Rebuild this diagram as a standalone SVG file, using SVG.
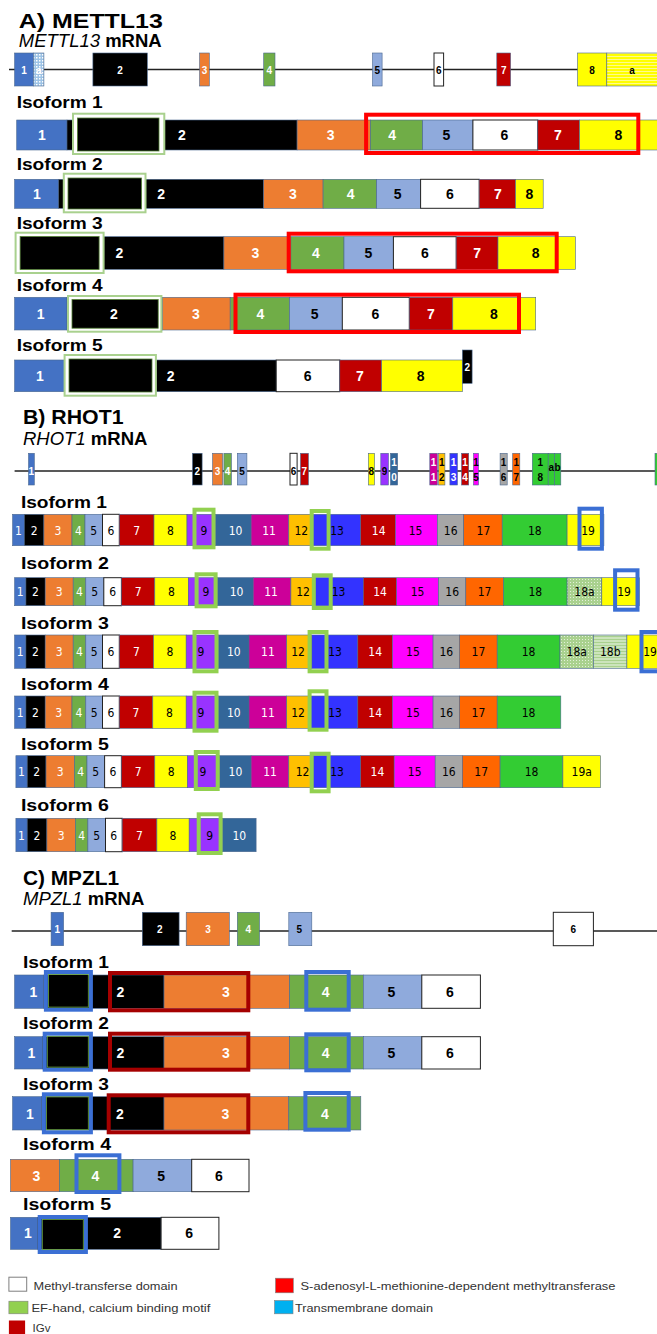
<svg xmlns="http://www.w3.org/2000/svg" width="657" height="1334" viewBox="0 0 657 1334">
<style>
text{font-family:"Liberation Sans",Arial,sans-serif}
.h{font-weight:bold;font-size:20px}
.sub{font-size:18.5px}
.iso{font-weight:bold;font-size:16px}
.L{font-weight:bold;font-size:14px;text-anchor:middle}
.S{font-weight:bold;font-size:10px;text-anchor:middle}
.N{font-family:"Liberation Sans Narrow","DejaVu Sans Condensed","Liberation Sans",sans-serif;font-size:12px;text-anchor:middle}
.lg{font-size:11.5px;fill:#333}
.w{fill:#fff}.b{fill:#000}
.bar rect{stroke:#4a6890;stroke-width:0.6}
.bl{fill:#4472c4}.k{fill:#000}.or{fill:#ed7d31}.gr{fill:#70ad47}.lb{fill:#8faadc}
.bar rect.wh,rect.wh{fill:#fff;stroke:#222;stroke-width:1}
.dr{fill:#c00000}.ye{fill:#ffff00}.pu{fill:#9933ff}.sb{fill:#336699}.mg{fill:#cc0099}
.go{fill:#ffc000}.bu{fill:#3333ff}.mf{fill:#ff00ff}.gy{fill:#a6a6a6}.o2{fill:#ff6600}.g2{fill:#33cc33}
.bar .gbox{fill:#fff;stroke:#a9d18e;stroke-width:2}
.bar .gin{fill:#000;stroke:#548235;stroke-width:0.8}
.bar .rbox{fill:none;stroke:#ff0000;stroke-width:4}
.bar .vbox{fill:none;stroke:#92d050;stroke-width:4}
.bar .ubox{fill:none;stroke:#3b6fd4;stroke-width:4}
.bar .mbox{fill:none;stroke:#a50000;stroke-width:4}
.bar .ink{fill:#000;stroke:#70ad47;stroke-width:0.8}
.line{stroke:#222;stroke-width:1.3}
</style>
<defs>
<pattern id="dots" width="3" height="3" patternUnits="userSpaceOnUse"><rect width="3" height="3" fill="#9dc3e6"/><rect width="1.5" height="1.5" fill="#fff"/></pattern>
<pattern id="ystr" width="4" height="3" patternUnits="userSpaceOnUse"><rect width="4" height="3" fill="#ffff00"/><rect y="2" width="4" height="0.8" fill="#fffbb0"/></pattern>
<pattern id="gdot" width="3" height="3" patternUnits="userSpaceOnUse"><rect width="3" height="3" fill="#a9d18e"/><rect width="1" height="1" fill="#e2f0d9"/></pattern>
<pattern id="gstr" width="4" height="3" patternUnits="userSpaceOnUse"><rect width="4" height="3" fill="#a9d18e"/><rect y="1.5" width="4" height="1" fill="#f0f8ea"/></pattern>
</defs>
<rect width="657" height="1334" fill="#fff"/>

<g id="connectors">
<line class="line" x1="9" y1="69.5" x2="657" y2="69.5"/>
<line class="line" x1="14.6" y1="471" x2="657" y2="471"/>
<line class="line" x1="11.7" y1="931" x2="657" y2="931"/>
</g>

<!-- ===== A) METTL13 ===== -->
<g id="titleA">
<text class="h" x="18.8" y="28" textLength="144" lengthAdjust="spacingAndGlyphs">A) METTL13</text>
<text class="sub" x="18.8" y="47"><tspan font-style="italic">METTL13</tspan> <tspan font-weight="bold">mRNA</tspan></text>
</g>
<g id="mettl13-mrna" class="bar">
<rect class="bl" x="14.6" y="53" width="18.9" height="33"/>
<rect fill="url(#dots)" x="33.5" y="53" width="10.4" height="33"/>
<rect class="k" x="92.9" y="53" width="54.4" height="33"/>
<rect class="or" x="199.6" y="53" width="9.7" height="33"/>
<rect class="gr" x="263.7" y="53" width="11.3" height="33"/>
<rect class="lb" x="372.5" y="53" width="9.6" height="33"/>
<rect class="wh" x="434" y="53" width="9.6" height="33"/>
<rect class="dr" x="496.8" y="53" width="13.8" height="33"/>
<rect class="ye" x="577.5" y="53" width="29.3" height="33"/>
<rect fill="url(#ystr)" x="606.8" y="53" width="52" height="33"/>
<text class="S w" x="24" y="73.5">1</text>
<text class="S w" x="38.7" y="73.5">a</text>
<text class="S w" x="120" y="73.5">2</text>
<text class="S w" x="204.5" y="73.5">3</text>
<text class="S w" x="269.3" y="73.5">4</text>
<text class="S b" x="377.3" y="73.5">5</text>
<text class="S b" x="438.8" y="73.5">6</text>
<text class="S w" x="503.7" y="73.5">7</text>
<text class="S b" x="592" y="73.5">8</text>
<text class="S b" x="632" y="73.5">a</text>
</g>

<g id="mettl13-iso1" class="bar">
<text class="iso" x="16.7" y="108" textLength="86" lengthAdjust="spacingAndGlyphs">Isoform 1</text>
<rect class="bl" x="16.7" y="120" width="50.3" height="30"/>
<rect class="k" x="67" y="120" width="230.1" height="30"/>
<rect class="or" x="297.1" y="120" width="73.3" height="30"/>
<rect class="gr" x="370.4" y="120" width="52.3" height="30"/>
<rect class="lb" x="422.7" y="120" width="50.2" height="30"/>
<rect class="wh" x="472.9" y="120" width="64.9" height="30"/>
<rect class="dr" x="537.8" y="120" width="41.8" height="30"/>
<rect class="ye" x="579.6" y="120" width="80" height="30"/>
<rect class="gbox" x="73" y="113.7" width="91.3" height="40.3"/>
<rect class="gin" x="77.4" y="118" width="81.6" height="33"/>
<rect class="rbox" x="366.1" y="114.7" width="272.2" height="38.3"/>
<text class="L w" x="41.9" y="140">1</text>
<text class="L w" x="182" y="140">2</text>
<text class="L w" x="330.6" y="140">3</text>
<text class="L w" x="392.1" y="140">4</text>
<text class="L b" x="446.5" y="140">5</text>
<text class="L b" x="504.3" y="140">6</text>
<text class="L w" x="557.9" y="140">7</text>
<text class="L b" x="618.5" y="140">8</text>
</g>

<g id="mettl13-iso2" class="bar">
<text class="iso" x="16.7" y="170" textLength="86" lengthAdjust="spacingAndGlyphs">Isoform 2</text>
<rect class="bl" x="14.6" y="179.3" width="44" height="29"/>
<rect class="k" x="58.6" y="179.3" width="205.1" height="29"/>
<rect class="or" x="263.7" y="179.3" width="59.4" height="29"/>
<rect class="gr" x="323.1" y="179.3" width="53.6" height="29"/>
<rect class="lb" x="376.7" y="179.3" width="43.9" height="29"/>
<rect class="wh" x="420.6" y="179.3" width="58.6" height="29"/>
<rect class="dr" x="479.2" y="179.3" width="36.4" height="29"/>
<rect class="ye" x="515.6" y="179.3" width="27.6" height="29"/>
<rect class="gbox" x="63.8" y="173.7" width="81.7" height="38.6"/>
<rect class="gin" x="68" y="178" width="73.5" height="31"/>
<text class="L w" x="36.8" y="199">1</text>
<text class="L w" x="161.1" y="199">2</text>
<text class="L w" x="293" y="199">3</text>
<text class="L w" x="350.7" y="199">4</text>
<text class="L b" x="397.6" y="199">5</text>
<text class="L b" x="449.9" y="199">6</text>
<text class="L w" x="498" y="199">7</text>
<text class="L b" x="529.4" y="199">8</text>
</g>

<g id="mettl13-iso3" class="bar">
<text class="iso" x="16.7" y="229" textLength="86" lengthAdjust="spacingAndGlyphs">Isoform 3</text>
<rect class="k" x="20.1" y="236.7" width="203.8" height="32.6"/>
<rect class="or" x="223.9" y="236.7" width="67" height="32.6"/>
<rect class="gr" x="290.9" y="236.7" width="53.1" height="32.6"/>
<rect class="lb" x="344" y="236.7" width="49.4" height="32.6"/>
<rect class="wh" x="393.4" y="236.7" width="62.8" height="32.6"/>
<rect class="dr" x="456.2" y="236.7" width="41.8" height="32.6"/>
<rect class="ye" x="498" y="236.7" width="77.4" height="32.6"/>
<rect class="gbox" x="15.6" y="232.7" width="88" height="40.3"/>
<rect class="gin" x="20.1" y="236.5" width="79" height="33"/>
<rect class="rbox" x="288.7" y="233.7" width="268" height="37.6"/>
<text class="L w" x="119.3" y="258">2</text>
<text class="L w" x="255.3" y="258">3</text>
<text class="L w" x="316" y="258">4</text>
<text class="L b" x="368.3" y="258">5</text>
<text class="L b" x="424.8" y="258">6</text>
<text class="L w" x="477.1" y="258">7</text>
<text class="L b" x="535.7" y="258">8</text>
</g>

<g id="mettl13-iso4" class="bar">
<text class="iso" x="16.7" y="291" textLength="86" lengthAdjust="spacingAndGlyphs">Isoform 4</text>
<rect class="bl" x="14.6" y="297.3" width="52.4" height="32.7"/>
<rect class="k" x="67" y="297.3" width="95.4" height="32.7"/>
<rect class="or" x="162.4" y="297.3" width="67.8" height="32.7"/>
<rect class="gr" x="230.2" y="297.3" width="59.4" height="32.7"/>
<rect class="lb" x="289.6" y="297.3" width="52.7" height="32.7"/>
<rect class="wh" x="342.3" y="297.3" width="67" height="32.7"/>
<rect class="dr" x="409.3" y="297.3" width="43.5" height="32.7"/>
<rect class="ye" x="452.8" y="297.3" width="82.9" height="32.7"/>
<rect class="gbox" x="68" y="296" width="93.4" height="35.7"/>
<rect class="gin" x="72" y="299.5" width="86.2" height="28.7"/>
<rect class="rbox" x="235.5" y="294.7" width="283.5" height="37.3"/>
<text class="L w" x="40.6" y="319">1</text>
<text class="L w" x="113.8" y="319">2</text>
<text class="L w" x="195.9" y="319">3</text>
<text class="L w" x="260.3" y="319">4</text>
<text class="L b" x="314.7" y="319">5</text>
<text class="L b" x="375.4" y="319">6</text>
<text class="L w" x="431" y="319">7</text>
<text class="L b" x="493.8" y="319">8</text>
</g>

<g id="mettl13-iso5" class="bar">
<text class="iso" x="16.7" y="351" textLength="86" lengthAdjust="spacingAndGlyphs">Isoform 5</text>
<rect class="bl" x="14.6" y="360" width="50.3" height="31.7"/>
<rect class="k" x="64.9" y="360" width="211.3" height="31.7"/>
<rect class="wh" x="276.2" y="360" width="63.6" height="31.7"/>
<rect class="dr" x="339.8" y="360" width="41.9" height="31.7"/>
<rect class="ye" x="381.7" y="360" width="80.7" height="31.7"/>
<rect class="k" x="462.4" y="350" width="9.7" height="33.3"/>
<rect class="gbox" x="64.6" y="355" width="91.3" height="40.7"/>
<rect class="gin" x="69" y="359" width="83" height="33"/>
<text class="L w" x="39.8" y="381">1</text>
<text class="L w" x="170.7" y="381">2</text>
<text class="L b" x="307.6" y="381">6</text>
<text class="L w" x="359.9" y="381">7</text>
<text class="L b" x="420.6" y="381">8</text>
<text class="S w" x="467.2" y="370.5">2</text>
</g>

<!-- ===== B) RHOT1 ===== -->
<g id="titleB">
<text class="h" x="23" y="423.5" textLength="100.5" lengthAdjust="spacingAndGlyphs">B) RHOT1</text>
<text class="sub" x="23" y="444.5"><tspan font-style="italic">RHOT1</tspan> <tspan font-weight="bold">mRNA</tspan></text>
</g>
<g id="rhot1-mrna" class="bar">
<rect class="bl" x="28.5" y="453.3" width="5.8" height="31.7"/>
<rect class="k" x="192.5" y="453.3" width="9.6" height="31.7"/>
<rect class="or" x="212.6" y="453.3" width="10" height="31.7"/>
<rect class="gr" x="223.9" y="453.3" width="7.5" height="31.7"/>
<rect class="lb" x="237.3" y="453.3" width="9.6" height="31.7"/>
<rect class="wh" x="290" y="453.3" width="7.1" height="31.7"/>
<rect class="dr" x="300.5" y="453.3" width="7.9" height="31.7"/>
<rect class="ye" x="368.3" y="453.3" width="6.3" height="31.7"/>
<rect class="pu" x="380.8" y="453.3" width="7.6" height="31.7"/>
<rect class="sb" x="390.5" y="453.3" width="7.1" height="31.7"/>
<rect class="mg" x="429.8" y="453.3" width="7.5" height="31.7"/>
<rect class="go" x="438.6" y="453.3" width="6.3" height="31.7"/>
<rect class="bu" x="449.9" y="453.3" width="7.5" height="31.7"/>
<rect class="dr" x="461.6" y="453.3" width="7.1" height="31.7"/>
<rect class="mf" x="473.5" y="453.3" width="5" height="31.7"/>
<rect class="gy" x="500.1" y="453.3" width="7.1" height="31.7"/>
<rect class="o2" x="512.7" y="453.3" width="7.1" height="31.7"/>
<rect class="g2" x="532.3" y="453.3" width="15.9" height="31.7"/>
<rect class="g2" x="548.2" y="453.3" width="6.3" height="31.7"/>
<rect class="g2" x="554.5" y="453.3" width="6.3" height="31.7"/>
<rect class="g2" x="655" y="453.3" width="4" height="31.7"/>
<text class="S w" x="31.4" y="474.5">1</text>
<text class="S w" x="197.3" y="474.5">2</text>
<text class="S w" x="217.6" y="474.5">3</text>
<text class="S w" x="227.6" y="474.5">4</text>
<text class="S b" x="242.1" y="474.5">5</text>
<text class="S b" x="293.5" y="474.5">6</text>
<text class="S w" x="304.4" y="474.5">7</text>
<text class="S b" x="371.4" y="474.5">8</text>
<text class="S b" x="384.6" y="474.5">9</text>
<text class="S w" x="394" y="466">1</text><text class="S w" x="394" y="481">0</text>
<text class="S w" x="433.5" y="466">1</text><text class="S w" x="433.5" y="481">1</text>
<text class="S b" x="441.7" y="466">1</text><text class="S b" x="441.7" y="481">2</text>
<text class="S w" x="453.6" y="466">1</text><text class="S w" x="453.6" y="481">3</text>
<text class="S w" x="465.1" y="466">1</text><text class="S w" x="465.1" y="481">4</text>
<text class="S b" x="476" y="466">1</text><text class="S b" x="476" y="481">5</text>
<text class="S b" x="503.6" y="466">1</text><text class="S b" x="503.6" y="481">6</text>
<text class="S b" x="516.2" y="466">1</text><text class="S b" x="516.2" y="481">7</text>
<text class="S b" x="540.2" y="466">1</text><text class="S b" x="540.2" y="481">8</text>
<text class="S b" x="551.3" y="471">a</text>
<text class="S b" x="557.6" y="471">b</text>
</g>

<g id="rhot1-iso1" class="bar">
<text class="iso" x="20.9" y="507.5" textLength="86" lengthAdjust="spacingAndGlyphs">Isoform 1</text>
<rect class="bl" x="12.6" y="514.3" width="11.7" height="31.4"/>
<rect class="k" x="24.3" y="514.3" width="19.6" height="31.4"/>
<rect class="or" x="43.9" y="514.3" width="28.1" height="31.4"/>
<rect class="gr" x="72" y="514.3" width="13" height="31.4"/>
<rect class="lb" x="85" y="514.3" width="17.5" height="31.4"/>
<rect class="wh" x="102.5" y="514.3" width="16.8" height="31.4"/>
<rect class="dr" x="119.3" y="514.3" width="34.7" height="31.4"/>
<rect class="ye" x="154" y="514.3" width="33" height="31.4"/>
<rect class="pu" x="187" y="514.3" width="28.5" height="31.4"/>
<rect class="sb" x="215.5" y="514.3" width="35.6" height="31.4"/>
<rect class="mg" x="251.1" y="514.3" width="37.7" height="31.4"/>
<rect class="go" x="288.8" y="514.3" width="23" height="31.4"/>
<rect class="bu" x="311.8" y="514.3" width="48.9" height="31.4"/>
<rect class="dr" x="360.7" y="514.3" width="34.8" height="31.4"/>
<rect class="mf" x="395.5" y="514.3" width="41.8" height="31.4"/>
<rect class="gy" x="437.3" y="514.3" width="26.4" height="31.4"/>
<rect class="o2" x="463.7" y="514.3" width="38.5" height="31.4"/>
<rect class="g2" x="502.2" y="514.3" width="64.9" height="31.4"/>
<rect class="ye" x="567.1" y="514.3" width="36.8" height="31.4"/>
<rect class="vbox" x="194.5" y="509.7" width="19" height="37.6"/>
<rect class="vbox" x="311.7" y="511" width="16.9" height="37.7"/>
<rect class="ubox" x="579.5" y="508.7" width="22.4" height="40"/>
<text class="N w" x="18.4" y="534.5">1</text>
<text class="N w" x="34.1" y="534.5">2</text>
<text class="N w" x="58" y="534.5">3</text>
<text class="N w" x="78.5" y="534.5">4</text>
<text class="N b" x="93.7" y="534.5">5</text>
<text class="N b" x="110.9" y="534.5">6</text>
<text class="N w" x="136.6" y="534.5">7</text>
<text class="N b" x="170.5" y="534.5">8</text>
<text class="N b" x="204" y="534.5">9</text>
<text class="N w" x="235.6" y="534.5">10</text>
<text class="N w" x="269.1" y="534.5">11</text>
<text class="N b" x="301.3" y="534.5">12</text>
<text class="N b" x="337" y="534.5">13</text>
<text class="N w" x="378.7" y="534.5">14</text>
<text class="N b" x="415.6" y="534.5">15</text>
<text class="N b" x="450.7" y="534.5">16</text>
<text class="N b" x="483.4" y="534.5">17</text>
<text class="N b" x="534.8" y="534.5">18</text>
<text class="N b" x="588" y="534.5">19</text>
</g>

<g id="rhot1-iso2" class="bar">
<text class="iso" x="20.9" y="568.5" textLength="88" lengthAdjust="spacingAndGlyphs">Isoform 2</text>
<rect class="bl" x="14.6" y="577.7" width="11.3" height="28"/>
<rect class="k" x="25.9" y="577.7" width="19.3" height="28"/>
<rect class="or" x="45.2" y="577.7" width="28" height="28"/>
<rect class="gr" x="73.2" y="577.7" width="12.6" height="28"/>
<rect class="lb" x="85.8" y="577.7" width="18" height="28"/>
<rect class="wh" x="103.8" y="577.7" width="17.6" height="28"/>
<rect class="dr" x="121.4" y="577.7" width="33.4" height="28"/>
<rect class="ye" x="154.8" y="577.7" width="33.5" height="28"/>
<rect class="pu" x="188.3" y="577.7" width="29.3" height="28"/>
<rect class="sb" x="217.6" y="577.7" width="35.6" height="28"/>
<rect class="mg" x="253.2" y="577.7" width="37.7" height="28"/>
<rect class="go" x="290.9" y="577.7" width="22.1" height="28"/>
<rect class="bu" x="313" y="577.7" width="50.3" height="28"/>
<rect class="dr" x="363.3" y="577.7" width="33.4" height="28"/>
<rect class="mf" x="396.7" y="577.7" width="41.9" height="28"/>
<rect class="gy" x="438.6" y="577.7" width="27.2" height="28"/>
<rect class="o2" x="465.8" y="577.7" width="37.7" height="28"/>
<rect class="g2" x="503.5" y="577.7" width="63.6" height="28"/>
<rect fill="url(#gdot)" x="567.1" y="577.7" width="34.7" height="28"/>
<rect class="ye" x="601.8" y="577.7" width="37.7" height="28"/>
<rect class="vbox" x="196.6" y="574.3" width="19" height="32"/>
<rect class="vbox" x="313.8" y="575.3" width="16.9" height="32.7"/>
<rect class="ubox" x="615.1" y="570.3" width="22.4" height="39.4"/>
<text class="N w" x="20.2" y="596">1</text>
<text class="N w" x="35.5" y="596">2</text>
<text class="N w" x="59.2" y="596">3</text>
<text class="N w" x="79.5" y="596">4</text>
<text class="N b" x="94.8" y="596">5</text>
<text class="N b" x="112.6" y="596">6</text>
<text class="N w" x="138.1" y="596">7</text>
<text class="N b" x="171.5" y="596">8</text>
<text class="N b" x="206" y="596">9</text>
<text class="N w" x="236.5" y="596">10</text>
<text class="N w" x="271" y="596">11</text>
<text class="N b" x="303" y="596">12</text>
<text class="N b" x="338.5" y="596">13</text>
<text class="N w" x="380" y="596">14</text>
<text class="N b" x="417.6" y="596">15</text>
<text class="N b" x="452.2" y="596">16</text>
<text class="N b" x="484.6" y="596">17</text>
<text class="N b" x="535.3" y="596">18</text>
<text class="N b" x="584.5" y="596" font-size="10">18a</text>
<text class="N b" x="624" y="596">19</text>
</g>

<g id="rhot1-iso3" class="bar">
<text class="iso" x="20.9" y="628.5" textLength="88" lengthAdjust="spacingAndGlyphs">Isoform 3</text>
<rect class="bl" x="14.6" y="635" width="11.3" height="33.3"/>
<rect class="k" x="25.9" y="635" width="19.3" height="33.3"/>
<rect class="or" x="45.2" y="635" width="28" height="33.3"/>
<rect class="gr" x="73.2" y="635" width="12.6" height="33.3"/>
<rect class="lb" x="85.8" y="635" width="16.7" height="33.3"/>
<rect class="wh" x="102.5" y="635" width="16.8" height="33.3"/>
<rect class="dr" x="119.3" y="635" width="34.3" height="33.3"/>
<rect class="ye" x="153.6" y="635" width="32.6" height="33.3"/>
<rect class="pu" x="186.2" y="635" width="32.3" height="33.3"/>
<rect class="sb" x="218.5" y="635" width="30.5" height="33.3"/>
<rect class="mg" x="249" y="635" width="37.7" height="33.3"/>
<rect class="go" x="286.7" y="635" width="25.1" height="33.3"/>
<rect class="bu" x="311.8" y="635" width="46" height="33.3"/>
<rect class="dr" x="357.8" y="635" width="34.8" height="33.3"/>
<rect class="mf" x="392.6" y="635" width="40.5" height="33.3"/>
<rect class="gy" x="433.1" y="635" width="26.4" height="33.3"/>
<rect class="o2" x="459.5" y="635" width="37.7" height="33.3"/>
<rect class="g2" x="497.2" y="635" width="62.8" height="33.3"/>
<rect fill="url(#gdot)" x="560" y="635" width="33.4" height="33.3"/>
<rect fill="url(#gstr)" x="593.4" y="635" width="33.5" height="33.3"/>
<rect class="ye" x="626.9" y="635" width="35" height="33.3"/>
<rect class="vbox" x="194.5" y="632" width="22" height="39.3"/>
<rect class="vbox" x="309.6" y="632" width="16.9" height="39.3"/>
<rect class="ubox" x="641.5" y="632" width="22" height="39.3"/>
<text class="N w" x="20.2" y="656">1</text>
<text class="N w" x="35.5" y="656">2</text>
<text class="N w" x="59.2" y="656">3</text>
<text class="N w" x="79.5" y="656">4</text>
<text class="N b" x="94.2" y="656">5</text>
<text class="N b" x="110.9" y="656">6</text>
<text class="N w" x="136.5" y="656">7</text>
<text class="N b" x="169.9" y="656">8</text>
<text class="N b" x="201" y="656">9</text>
<text class="N w" x="233.8" y="656">10</text>
<text class="N w" x="267.9" y="656">11</text>
<text class="N b" x="298" y="656">12</text>
<text class="N b" x="335" y="656">13</text>
<text class="N w" x="375.2" y="656">14</text>
<text class="N b" x="412.9" y="656">15</text>
<text class="N b" x="446.3" y="656">16</text>
<text class="N b" x="478.4" y="656">17</text>
<text class="N b" x="528.6" y="656">18</text>
<text class="N b" x="576.7" y="656" font-size="10">18a</text>
<text class="N b" x="610.2" y="656" font-size="10">18b</text>
<text class="N b" x="650" y="656">19</text>
</g>

<g id="rhot1-iso4" class="bar">
<text class="iso" x="20.9" y="690" textLength="88" lengthAdjust="spacingAndGlyphs">Isoform 4</text>
<rect class="bl" x="14.6" y="696" width="11.3" height="32.3"/>
<rect class="k" x="25.9" y="696" width="19.3" height="32.3"/>
<rect class="or" x="45.2" y="696" width="26.8" height="32.3"/>
<rect class="gr" x="72" y="696" width="13.8" height="32.3"/>
<rect class="lb" x="85.8" y="696" width="16.7" height="32.3"/>
<rect class="wh" x="102.5" y="696" width="16.8" height="32.3"/>
<rect class="dr" x="119.3" y="696" width="33.5" height="32.3"/>
<rect class="ye" x="152.8" y="696" width="33.4" height="32.3"/>
<rect class="pu" x="186.2" y="696" width="32.3" height="32.3"/>
<rect class="sb" x="218.5" y="696" width="30.5" height="32.3"/>
<rect class="mg" x="249" y="696" width="37.7" height="32.3"/>
<rect class="go" x="286.7" y="696" width="23.8" height="32.3"/>
<rect class="bu" x="310.5" y="696" width="47.3" height="32.3"/>
<rect class="dr" x="357.8" y="696" width="34.8" height="32.3"/>
<rect class="mf" x="392.6" y="696" width="40.5" height="32.3"/>
<rect class="gy" x="433.1" y="696" width="26.4" height="32.3"/>
<rect class="o2" x="459.5" y="696" width="37.7" height="32.3"/>
<rect class="g2" x="497.2" y="696" width="63.6" height="32.3"/>
<rect class="vbox" x="194.5" y="692.7" width="22" height="38"/>
<rect class="vbox" x="309.6" y="691.3" width="16.9" height="38.4"/>
<text class="N w" x="20.2" y="716.5">1</text>
<text class="N w" x="35.5" y="716.5">2</text>
<text class="N w" x="58.6" y="716.5">3</text>
<text class="N w" x="78.9" y="716.5">4</text>
<text class="N b" x="94.2" y="716.5">5</text>
<text class="N b" x="110.9" y="716.5">6</text>
<text class="N w" x="136" y="716.5">7</text>
<text class="N b" x="169.5" y="716.5">8</text>
<text class="N b" x="201" y="716.5">9</text>
<text class="N w" x="233.8" y="716.5">10</text>
<text class="N w" x="267.9" y="716.5">11</text>
<text class="N b" x="298" y="716.5">12</text>
<text class="N b" x="335" y="716.5">13</text>
<text class="N w" x="375.2" y="716.5">14</text>
<text class="N b" x="412.9" y="716.5">15</text>
<text class="N b" x="446.3" y="716.5">16</text>
<text class="N b" x="478.4" y="716.5">17</text>
<text class="N b" x="528.6" y="716.5">18</text>
</g>

<g id="rhot1-iso5" class="bar">
<text class="iso" x="20.9" y="750" textLength="88" lengthAdjust="spacingAndGlyphs">Isoform 5</text>
<rect class="bl" x="15.9" y="755.7" width="11.3" height="32"/>
<rect class="k" x="27.2" y="755.7" width="18.8" height="32"/>
<rect class="or" x="46" y="755.7" width="28.5" height="32"/>
<rect class="gr" x="74.5" y="755.7" width="12.5" height="32"/>
<rect class="lb" x="87" y="755.7" width="17.6" height="32"/>
<rect class="wh" x="104.6" y="755.7" width="16.8" height="32"/>
<rect class="dr" x="121.4" y="755.7" width="33.4" height="32"/>
<rect class="ye" x="154.8" y="755.7" width="32.7" height="32"/>
<rect class="pu" x="187.5" y="755.7" width="32.2" height="32"/>
<rect class="sb" x="219.7" y="755.7" width="31.4" height="32"/>
<rect class="mg" x="251.1" y="755.7" width="37.7" height="32"/>
<rect class="go" x="288.8" y="755.7" width="24.2" height="32"/>
<rect class="bu" x="313" y="755.7" width="47.7" height="32"/>
<rect class="dr" x="360.7" y="755.7" width="33.5" height="32"/>
<rect class="mf" x="394.2" y="755.7" width="41" height="32"/>
<rect class="gy" x="435.2" y="755.7" width="27.2" height="32"/>
<rect class="o2" x="462.4" y="755.7" width="37.7" height="32"/>
<rect class="g2" x="500.1" y="755.7" width="62.8" height="32"/>
<rect class="ye" x="562.9" y="755.7" width="37.6" height="32"/>
<rect class="vbox" x="195.8" y="752" width="21.9" height="37"/>
<rect class="vbox" x="311.7" y="753.7" width="16.9" height="37.6"/>
<text class="N w" x="21.5" y="776">1</text>
<text class="N w" x="36.6" y="776">2</text>
<text class="N w" x="60.2" y="776">3</text>
<text class="N w" x="80.7" y="776">4</text>
<text class="N b" x="95.8" y="776">5</text>
<text class="N b" x="113" y="776">6</text>
<text class="N w" x="138.1" y="776">7</text>
<text class="N b" x="171.1" y="776">8</text>
<text class="N b" x="203" y="776">9</text>
<text class="N w" x="235.4" y="776">10</text>
<text class="N w" x="270" y="776">11</text>
<text class="N b" x="302.5" y="776">12</text>
<text class="N b" x="337" y="776">13</text>
<text class="N w" x="377.4" y="776">14</text>
<text class="N b" x="414.7" y="776">15</text>
<text class="N b" x="448.8" y="776">16</text>
<text class="N b" x="481.2" y="776">17</text>
<text class="N b" x="531.5" y="776">18</text>
<text class="N b" x="581.7" y="776">19a</text>
</g>

<g id="rhot1-iso6" class="bar">
<text class="iso" x="20.9" y="811" textLength="88" lengthAdjust="spacingAndGlyphs">Isoform 6</text>
<rect class="bl" x="15.9" y="818.3" width="11.3" height="33.4"/>
<rect class="k" x="27.2" y="818.3" width="19.7" height="33.4"/>
<rect class="or" x="46.9" y="818.3" width="28.4" height="33.4"/>
<rect class="gr" x="75.3" y="818.3" width="12.6" height="33.4"/>
<rect class="lb" x="87.9" y="818.3" width="17.6" height="33.4"/>
<rect class="wh" x="105.5" y="818.3" width="16.7" height="33.4"/>
<rect class="dr" x="122.2" y="818.3" width="34.7" height="33.4"/>
<rect class="ye" x="156.9" y="818.3" width="32.3" height="33.4"/>
<rect class="pu" x="189.2" y="818.3" width="33.4" height="33.4"/>
<rect class="sb" x="222.6" y="818.3" width="33.5" height="33.4"/>
<rect class="vbox" x="198.7" y="814.3" width="21.9" height="38.7"/>
<text class="N w" x="21.5" y="839.5">1</text>
<text class="N w" x="37" y="839.5">2</text>
<text class="N w" x="61.1" y="839.5">3</text>
<text class="N w" x="81.6" y="839.5">4</text>
<text class="N b" x="96.7" y="839.5">5</text>
<text class="N b" x="113.8" y="839.5">6</text>
<text class="N w" x="139.5" y="839.5">7</text>
<text class="N b" x="173" y="839.5">8</text>
<text class="N b" x="209.6" y="839.5">9</text>
<text class="N w" x="239.3" y="839.5">10</text>
</g>

<!-- ===== C) MPZL1 ===== -->
<g id="titleC">
<text class="h" x="23" y="885" textLength="96" lengthAdjust="spacingAndGlyphs">C) MPZL1</text>
<text class="sub" x="23" y="904.5"><tspan font-style="italic">MPZL1</tspan> <tspan font-weight="bold">mRNA</tspan></text>
</g>
<g id="mpzl1-mrna" class="bar">
<rect class="bl" x="51.1" y="912.3" width="12.5" height="33.4"/>
<rect class="k" x="142.3" y="912.3" width="36.8" height="33.4"/>
<rect class="or" x="186.2" y="912.3" width="43.1" height="33.4"/>
<rect class="gr" x="237.3" y="912.3" width="22.2" height="33.4"/>
<rect class="lb" x="288.8" y="912.3" width="23" height="33.4"/>
<rect class="wh" x="553.3" y="912.3" width="40.1" height="33.4"/>
<text class="S w" x="57.4" y="933">1</text>
<text class="S w" x="159.9" y="933">2</text>
<text class="S w" x="208" y="933">3</text>
<text class="S w" x="248.2" y="933">4</text>
<text class="S b" x="299.2" y="933">5</text>
<text class="S b" x="573.3" y="933">6</text>
</g>

<g id="mpzl1-iso1" class="bar">
<text class="iso" x="23" y="968" textLength="86" lengthAdjust="spacingAndGlyphs">Isoform 1</text>
<rect class="bl" x="14.6" y="975" width="29.3" height="33.3"/>
<rect class="k" x="43.9" y="975" width="120.1" height="33.3"/>
<rect class="or" x="164" y="975" width="125.6" height="33.3"/>
<rect class="gr" x="289.6" y="975" width="73.7" height="33.3"/>
<rect class="lb" x="363.3" y="975" width="58.5" height="33.3"/>
<rect class="wh" x="421.8" y="975" width="58.6" height="33.3"/>
<rect class="ubox" x="45.9" y="972" width="45" height="37.7"/>
<rect class="ink" x="48.5" y="974.6" width="39.8" height="32.5"/>
<rect class="mbox" x="110" y="973" width="138.3" height="37.3"/>
<rect class="ubox" x="306.3" y="972" width="42.4" height="37.7"/>
<text class="L w" x="33.5" y="997">1</text>
<text class="L w" x="120.5" y="997">2</text>
<text class="L w" x="226" y="997">3</text>
<text class="L w" x="325.6" y="997">4</text>
<text class="L b" x="391.3" y="997">5</text>
<text class="L b" x="449.9" y="997">6</text>
</g>

<g id="mpzl1-iso2" class="bar">
<text class="iso" x="23" y="1028.5" textLength="86" lengthAdjust="spacingAndGlyphs">Isoform 2</text>
<rect class="bl" x="14.6" y="1036.7" width="28.1" height="32.3"/>
<rect class="k" x="42.7" y="1036.7" width="121.3" height="32.3"/>
<rect class="or" x="164" y="1036.7" width="125.6" height="32.3"/>
<rect class="gr" x="289.6" y="1036.7" width="73.7" height="32.3"/>
<rect class="lb" x="363.3" y="1036.7" width="58.5" height="32.3"/>
<rect class="wh" x="421.8" y="1036.7" width="58.6" height="32.3"/>
<rect class="ubox" x="44.7" y="1033.7" width="46.2" height="36"/>
<rect class="ink" x="47.3" y="1036.3" width="41" height="30.8"/>
<rect class="mbox" x="110" y="1033.7" width="138.3" height="36"/>
<rect class="ubox" x="306.3" y="1034.3" width="42.4" height="36"/>
<text class="L w" x="31.5" y="1058">1</text>
<text class="L w" x="120.5" y="1058">2</text>
<text class="L w" x="226" y="1058">3</text>
<text class="L w" x="325.6" y="1058">4</text>
<text class="L b" x="391.3" y="1058">5</text>
<text class="L b" x="449.9" y="1058">6</text>
</g>

<g id="mpzl1-iso3" class="bar">
<text class="iso" x="23" y="1089.5" textLength="86" lengthAdjust="spacingAndGlyphs">Isoform 3</text>
<rect class="bl" x="12.6" y="1096.7" width="29.3" height="33.3"/>
<rect class="k" x="41.9" y="1096.7" width="122.1" height="33.3"/>
<rect class="or" x="164" y="1096.7" width="124.8" height="33.3"/>
<rect class="gr" x="288.8" y="1096.7" width="72" height="33.3"/>
<rect class="ubox" x="43.9" y="1094.3" width="47" height="38"/>
<rect class="ink" x="46.5" y="1096.9" width="41.8" height="32.8"/>
<rect class="mbox" x="108.7" y="1095.3" width="139.6" height="37"/>
<rect class="ubox" x="305.4" y="1093" width="43.3" height="36.7"/>
<text class="L w" x="30" y="1118.5">1</text>
<text class="L w" x="119.8" y="1118.5">2</text>
<text class="L w" x="225.5" y="1118.5">3</text>
<text class="L w" x="325" y="1118.5">4</text>
</g>

<g id="mpzl1-iso4" class="bar">
<text class="iso" x="23" y="1150" textLength="88" lengthAdjust="spacingAndGlyphs">Isoform 4</text>
<rect class="or" x="10.5" y="1159.3" width="48.9" height="32.4"/>
<rect class="gr" x="59.4" y="1159.3" width="73.7" height="32.4"/>
<rect class="lb" x="133.1" y="1159.3" width="58.6" height="32.4"/>
<rect class="wh" x="191.7" y="1159.3" width="57.3" height="32.4"/>
<rect class="ubox" x="76.5" y="1155.3" width="42.9" height="36.7"/>
<text class="L w" x="36.4" y="1180.5">3</text>
<text class="L w" x="95.4" y="1180.5">4</text>
<text class="L b" x="161.1" y="1180.5">5</text>
<text class="L b" x="218.9" y="1180.5">6</text>
</g>

<g id="mpzl1-iso5" class="bar">
<text class="iso" x="23" y="1210" textLength="88" lengthAdjust="spacingAndGlyphs">Isoform 5</text>
<rect class="bl" x="10.5" y="1217.3" width="27.2" height="32"/>
<rect class="k" x="37.7" y="1217.3" width="123.4" height="32"/>
<rect class="wh" x="161.1" y="1217.3" width="57.8" height="32"/>
<rect class="ubox" x="39.7" y="1217" width="46.2" height="35"/>
<rect class="ink" x="42.3" y="1219.6" width="41" height="29.8"/>
<text class="L w" x="28" y="1238">1</text>
<text class="L w" x="117.2" y="1238">2</text>
<text class="L b" x="189.2" y="1238">6</text>
</g>

<!-- Legend -->
<g id="legend">
<rect x="8.9" y="1277.2" width="17.8" height="14" fill="#fff" stroke="#7f7f7f" stroke-width="1"/>
<text class="lg" x="33.5" y="1290" textLength="144" lengthAdjust="spacingAndGlyphs">Methyl-transferse domain</text>
<rect x="8.9" y="1301.2" width="19.1" height="12.6" fill="#92d050" stroke="#7f7f7f" stroke-width="0.6"/>
<text class="lg" x="31.4" y="1312" textLength="179" lengthAdjust="spacingAndGlyphs">EF-hand, calcium binding motif</text>
<rect x="8.9" y="1320.5" width="16.2" height="14" fill="#c00000"/>
<text class="lg" x="32.6" y="1332">IGv</text>
<rect x="275.5" y="1278.2" width="17.8" height="14.6" fill="#ff0000" stroke="#7f7f7f" stroke-width="0.6"/>
<text class="lg" x="300.5" y="1290" textLength="315" lengthAdjust="spacingAndGlyphs">S-adenosyl-L-methionine-dependent methyltransferase</text>
<rect x="274.6" y="1300.5" width="18.4" height="13.3" fill="#00b0f0" stroke="#7f7f7f" stroke-width="0.6"/>
<text class="lg" x="295" y="1312" textLength="138" lengthAdjust="spacingAndGlyphs">Transmembrane domain</text>
</g>
</svg>
